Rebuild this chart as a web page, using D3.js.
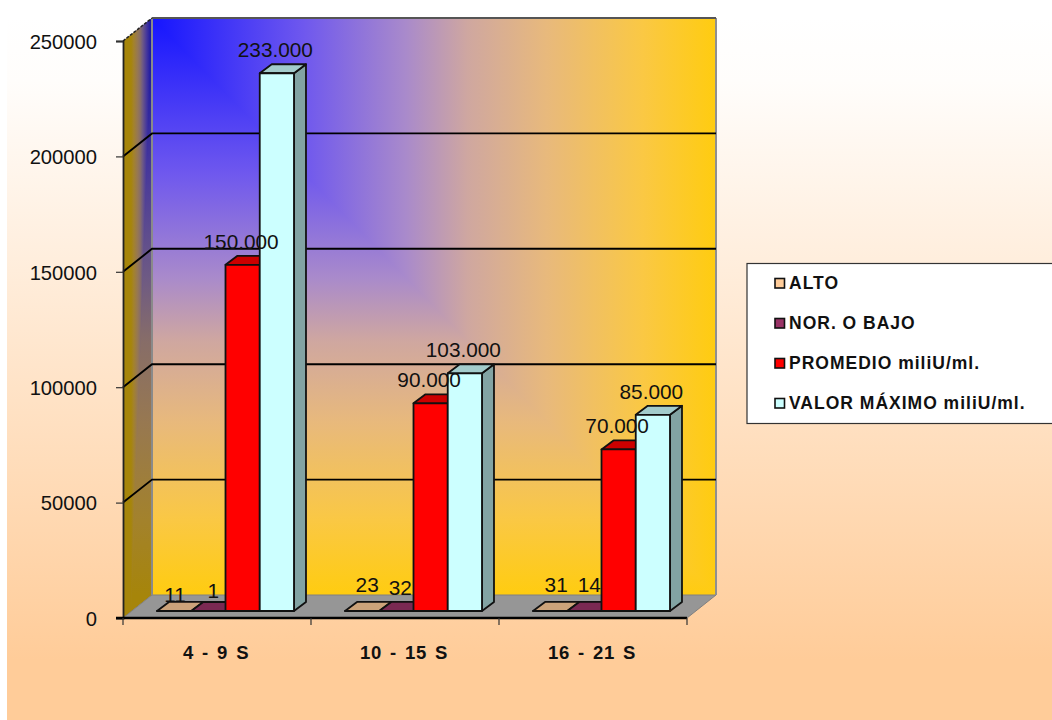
<!DOCTYPE html>
<html>
<head>
<meta charset="utf-8">
<script src="https://cdn.jsdelivr.net/npm/d3@7/dist/d3.min.js"></script>
<style>
  html, body { margin: 0; padding: 0; background: #fff; }
  svg { display: block; }
  text { font-family: "Liberation Sans", Arial, sans-serif; fill: #111; }
</style>
</head>
<body>
<svg id="chart" width="1052" height="720"></svg>
<script>
// Chart data
const categories = ["4 - 9 S", "10 - 15 S", "16 - 21 S"];
const seriesNames = ["ALTO", "NOR. O BAJO", "PROMEDIO miliU/ml.", "VALOR MÁXIMO miliU/ml."];
const alto = [11, 23, 31];
const norBajo = [1, 32, 14];
const promedio = [150000, 90000, 70000];
const valorMaximo = [233000, 103000, 85000];
const yTicks = [0, 50000, 100000, 150000, 200000, 250000];

// Shades per series: front, top face, side face
const frontColors = ["#ffcc99", "#993366", "#ff0000", "#ccffff"];
const topColors = ["#cca37a", "#7a2952", "#cc0000", "#a3cccc"];
const sideColors = ["#997a5c", "#5c1f3d", "#990000", "#82a3a3"];

// Hand-placed offsets of the low-value labels (category index, series index)
const smallLabelNudge = [
  [[1, -9], [5, -13]],
  [[5, -19], [4, -16]],
  [[6, -19], [5, -19]]
];

// Layout
const plot = { left: 123, right: 687, top: 41, bottom: 618 };
const wallDepth = { dx: 29, dy: -23 };
const barDepth = { dx: 12, dy: -9 };
const barInset = { dx: 8.5, dy: -7 };

const svg = d3.select("#chart");
const defs = svg.append("defs");

const y = d3.scaleLinear().domain([0, 250000]).range([plot.bottom, plot.top]);
const x0 = d3.scaleBand().domain(categories).range([plot.left, plot.right]);
const x1 = d3.scaleBand().domain(seriesNames).range([0, x0.bandwidth()])
  .paddingInner(0).paddingOuter(0.745);

const wall = {
  x0: plot.left + wallDepth.dx,
  x1: plot.right + wallDepth.dx,
  y0: plot.top + wallDepth.dy,
  y1: plot.bottom + wallDepth.dy
};

// Gradient helper working in page coordinates
function gradient(id, x1g, y1g, x2g, y2g, stops) {
  const g = defs.append("linearGradient").attr("id", id)
    .attr("gradientUnits", "userSpaceOnUse")
    .attr("x1", x1g).attr("y1", y1g).attr("x2", x2g).attr("y2", y2g);
  g.selectAll("stop").data(stops).join("stop")
    .attr("offset", d => d[0]).attr("stop-color", d => d[1]);
}

const pageStops = [[0, "#ffffff"], [0.1, "#fffdfb"], [1, "#ffcc99"]];
gradient("pageFill", 0, 17, 0, 660, pageStops);

const wallStops = [
  [0, "#1515ff"], [0.27, "#6f58ee"], [0.45, "#a98acb"], [0.56, "#cfa7a0"],
  [0.7, "#e8b97c"], [0.87, "#fac844"], [1, "#ffcc10"]
];
const sideStops = wallStops.map(([o, c]) => {
  const k = d3.rgb(c);
  return [o, d3.rgb(k.r * 0.65, k.g * 0.65, k.b * 0.65).formatHex()];
});
const sideGoldX = plot.left + 8;
gradient("wallH", wall.x0, 0, wall.x1, 0, wallStops);
gradient("wallV", 0, wall.y0, 0, wall.y1, wallStops);
gradient("sideH", wall.x0, 0, sideGoldX, 0, sideStops);
gradient("sideV", 0, wall.y0, 0, wall.y1, sideStops);

const poly = pts => "M" + pts.map(p => p.join(",")).join("L") + "Z";

// Page background
svg.append("rect").attr("x", 7).attr("y", 17).attr("width", 1045).attr("height", 703)
  .attr("fill", "url(#pageFill)");

// Back wall: a corner-style gradient, horizontal above the diagonal and vertical below it
svg.append("rect").attr("x", wall.x0).attr("y", wall.y0)
  .attr("width", wall.x1 - wall.x0).attr("height", wall.y1 - wall.y0)
  .attr("fill", "url(#wallH)");
svg.append("path")
  .attr("d", poly([[wall.x0, wall.y0], [wall.x1, wall.y1], [wall.x0, wall.y1]]))
  .attr("fill", "url(#wallV)");

// Side wall, same treatment in a darker shade
svg.append("path")
  .attr("d", poly([[plot.left, plot.top], [wall.x0, wall.y0], [wall.x0, wall.y1], [plot.left, plot.bottom]]))
  .attr("fill", "url(#sideV)");
svg.append("path")
  .attr("d", poly([[wall.x0, wall.y0], [plot.left, plot.top], [plot.left, plot.bottom], [sideGoldX, plot.bottom - 6]]))
  .attr("fill", "url(#sideH)");

// Floor
svg.append("path")
  .attr("d", poly([[plot.left, plot.bottom], [wall.x0, wall.y1], [wall.x1, wall.y1], [plot.right, plot.bottom]]))
  .attr("fill", "#969696").attr("stroke", "#808080").attr("stroke-width", 1);

// Wall outlines
svg.append("path")
  .attr("d", `M${wall.x0},${wall.y1}V${wall.y0}`)
  .attr("stroke", "#8a8a8a").attr("stroke-width", 2).attr("fill", "none");
svg.append("path")
  .attr("d", `M${wall.x1},${wall.y1}V${wall.y0}`)
  .attr("stroke", "#8f8f8f").attr("stroke-width", 2).attr("fill", "none");
svg.append("path")
  .attr("d", `M${wall.x0},${wall.y0}H${wall.x1}`)
  .attr("stroke", "#555").attr("stroke-width", 2).attr("fill", "none");
svg.append("path")
  .attr("d", `M${plot.left},${plot.top}L${wall.x0},${wall.y0}`)
  .attr("stroke", "#222").attr("stroke-width", 1.5).attr("stroke-dasharray", "3 1.5");

// Gridlines running over the side wall and the back wall
svg.append("g").selectAll("path")
  .data(yTicks.filter(t => t > 0 && t < 250000))
  .join("path")
  .attr("d", t => `M${plot.left},${y(t)}L${wall.x0},${y(t) + wallDepth.dy}H${wall.x1}`)
  .attr("fill", "none").attr("stroke", "#000").attr("stroke-width", 1.9);

// Value axis
const yAxis = svg.append("g")
  .attr("transform", `translate(${plot.left},0)`)
  .call(d3.axisLeft(y).tickValues(yTicks).tickSize(7).tickPadding(19).tickFormat(d3.format("d")));
yAxis.select(".domain").attr("stroke", "#222").attr("stroke-width", 1.8);
yAxis.selectAll(".tick line").attr("stroke", "#333").attr("stroke-width", 1.2);
yAxis.selectAll("text").style("font-size", "20.2px").attr("fill", "#111").attr("dy", "0.36em");

// Category axis: labels in the band centres, tick marks on the band edges
const xAxis = svg.append("g")
  .attr("transform", `translate(-1,${plot.bottom})`)
  .call(d3.axisBottom(x0).tickSize(0).tickPadding(28));
xAxis.select(".domain").remove();
xAxis.selectAll("text")
  .style("font-size", "18.5px").style("font-weight", "700")
  .style("letter-spacing", "0.6px").style("word-spacing", "2.5px").attr("fill", "#1a1a1a");

svg.append("path")
  .attr("d", `M${plot.left - 7},${plot.bottom}H${plot.right}`)
  .attr("stroke", "#000").attr("stroke-width", 2.4);
svg.append("g").selectAll("line")
  .data([...categories.map(c => x0(c)), plot.right])
  .join("line")
  .attr("x1", d => d).attr("x2", d => d)
  .attr("y1", plot.bottom).attr("y2", plot.bottom + 7)
  .attr("stroke", "#333").attr("stroke-width", 1.2);

// Bars, series by series so nearer faces overlap correctly
const seriesValues = [alto, norBajo, promedio, valorMaximo];
const barRows = seriesValues.map((vals, s) => vals.map((v, c) => ({ s, c, v })));
const barWidth = x1.bandwidth();

const barGeom = d => {
  const left = x0(categories[d.c]) + x1(seriesNames[d.s]) + barInset.dx;
  const base = y(0) + barInset.dy;
  const top = y(d.v) + barInset.dy;
  return { left, right: left + barWidth, base, top };
};

const barLayer = svg.append("g");
categories.forEach((_, c) => {
  seriesValues.forEach((_, s) => {
    const d = barRows[s][c];
    const g = barGeom(d);
    const cell = barLayer.append("g")
      .attr("stroke", "#111").attr("stroke-width", 1.8).attr("stroke-linejoin", "round");
    cell.append("path")
      .attr("d", poly([[g.right, g.top], [g.right + barDepth.dx, g.top + barDepth.dy],
        [g.right + barDepth.dx, g.base + barDepth.dy], [g.right, g.base]]))
      .attr("fill", sideColors[s]);
    cell.append("path")
      .attr("d", poly([[g.left, g.top], [g.left + barDepth.dx, g.top + barDepth.dy],
        [g.right + barDepth.dx, g.top + barDepth.dy], [g.right, g.top]]))
      .attr("fill", topColors[s]);
    cell.append("rect")
      .attr("x", g.left).attr("y", g.top)
      .attr("width", barWidth).attr("height", Math.max(0, g.base - g.top))
      .attr("fill", frontColors[s]);
  });
});

// Value labels, thousands separated with a dot
const groupThousands = d3.formatLocale({ decimal: ",", thousands: ".", grouping: [3], currency: ["", ""] }).format(",d");
svg.append("g").selectAll("text")
  .data(barRows.flat())
  .join("text")
  .attr("text-anchor", "middle")
  .style("font-size", "20.8px")
  .attr("x", d => {
    const g = barGeom(d);
    const nudge = d.s < 2 ? smallLabelNudge[d.c][d.s][0] : -1.5;
    return (g.left + g.right) / 2 + nudge;
  })
  .attr("y", d => {
    const g = barGeom(d);
    return g.top + (d.s < 2 ? smallLabelNudge[d.c][d.s][1] : -16);
  })
  .text(d => groupThousands(d.v));

// Legend box runs off the right edge of the page
const legend = svg.append("g");
legend.append("rect").attr("x", 747).attr("y", 263.5).attr("width", 320).attr("height", 160)
  .attr("fill", "#fff").attr("stroke", "#333").attr("stroke-width", 1.2);
const rowY = d3.scalePoint().domain(seriesNames).range([283, 403]);
const rows = legend.selectAll("g.row").data(seriesNames).join("g")
  .attr("class", "row")
  .attr("transform", d => `translate(0,${rowY(d)})`);
rows.append("rect").attr("x", 775).attr("y", -4.5).attr("width", 9.5).attr("height", 9.5)
  .attr("fill", (d, i) => frontColors[i]).attr("stroke", "#111").attr("stroke-width", 1.6);
rows.append("text").attr("x", 789).attr("dy", "0.36em")
  .style("font-size", "17.5px").style("font-weight", "700").style("letter-spacing", "1px")
  .attr("fill", "#1a1a1a")
  .text(d => d);
</script>
</body>
</html>
